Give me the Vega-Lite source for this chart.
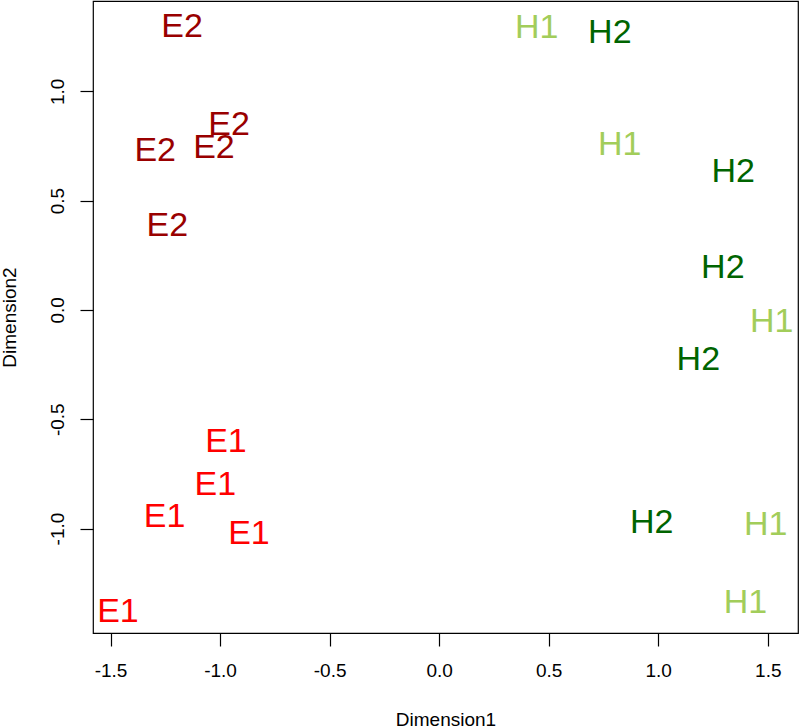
{
  "$schema": "https://vega.github.io/schema/vega-lite/v6.json",
  "autosize": {"type": "none"},
  "width": 705,
  "height": 632,
  "padding": {"left": 93, "top": 1, "right": 2, "bottom": 94},
  "background": "white",
  "config": {
    "view": {"stroke": "black", "strokeWidth": 1.2},
    "font": "Liberation Sans"
  },
  "data": {
    "values": [
      {"d1": -1.173, "d2": 1.302, "label": "E2"},
      {"d1": -0.959, "d2": 0.857, "label": "E2"},
      {"d1": -1.296, "d2": 0.736, "label": "E2"},
      {"d1": -1.028, "d2": 0.750, "label": "E2"},
      {"d1": -1.241, "d2": 0.395, "label": "E2"},
      {"d1": 0.445, "d2": 1.299, "label": "H1"},
      {"d1": 0.824, "d2": 0.764, "label": "H1"},
      {"d1": 1.518, "d2": -0.045, "label": "H1"},
      {"d1": 1.491, "d2": -0.976, "label": "H1"},
      {"d1": 1.398, "d2": -1.332, "label": "H1"},
      {"d1": 0.779, "d2": 1.275, "label": "H2"},
      {"d1": 1.342, "d2": 0.638, "label": "H2"},
      {"d1": 1.295, "d2": 0.199, "label": "H2"},
      {"d1": 1.183, "d2": -0.219, "label": "H2"},
      {"d1": 0.970, "d2": -0.966, "label": "H2"},
      {"d1": -0.973, "d2": -0.596, "label": "E1"},
      {"d1": -1.022, "d2": -0.791, "label": "E1"},
      {"d1": -1.253, "d2": -0.937, "label": "E1"},
      {"d1": -0.868, "d2": -1.017, "label": "E1"},
      {"d1": -1.466, "d2": -1.373, "label": "E1"}
    ]
  },
  "mark": {"type": "text", "fontSize": 34, "font": "Liberation Sans", "baseline": "middle", "align": "center", "dy": 2},
  "encoding": {
    "x": {
      "field": "d1", "type": "quantitative",
      "scale": {"domain": [-1.58, 1.638], "nice": false, "zero": false},
      "axis": {
        "title": "Dimension1", "values": [-1.5, -1, -0.5, 0, 0.5, 1, 1.5],
        "labelExpr": "replace(format(datum.value, '.1f'), '\u2212', '-')",
        "grid": false, "domain": false, "tickSize": 13, "tickColor": "black", "tickWidth": 1.2,
        "labelFont": "Liberation Sans", "labelFontSize": 19, "labelColor": "black", "labelPadding": 15,
        "titleFont": "Liberation Sans", "titleFontSize": 19, "titleFontWeight": "normal", "titleColor": "black",
        "titleBaseline": "alphabetic", "titleY": 92
      }
    },
    "y": {
      "field": "d2", "type": "quantitative",
      "scale": {"domain": [-1.478, 1.413], "nice": false, "zero": false},
      "axis": {
        "title": "Dimension2", "values": [-1, -0.5, 0, 0.5, 1],
        "labelExpr": "replace(format(datum.value, '.1f'), '\u2212', '-')",
        "grid": false, "domain": false, "tickSize": 13, "tickColor": "black", "tickWidth": 1.2,
        "labelFont": "Liberation Sans", "labelFontSize": 19, "labelColor": "black", "labelPadding": 13,
        "labelAngle": -90, "labelAlign": "center", "labelBaseline": "bottom",
        "titleFont": "Liberation Sans", "titleFontSize": 19, "titleFontWeight": "normal", "titleColor": "black",
        "titleAngle": -90, "titleBaseline": "alphabetic", "titleX": -78
      }
    },
    "text": {"field": "label"},
    "color": {
      "field": "label", "type": "nominal",
      "scale": {"domain": ["E1", "E2", "H1", "H2"], "range": ["#FF0000", "#990000", "#A2CD5A", "#006400"]},
      "legend": null
    }
  }
}
